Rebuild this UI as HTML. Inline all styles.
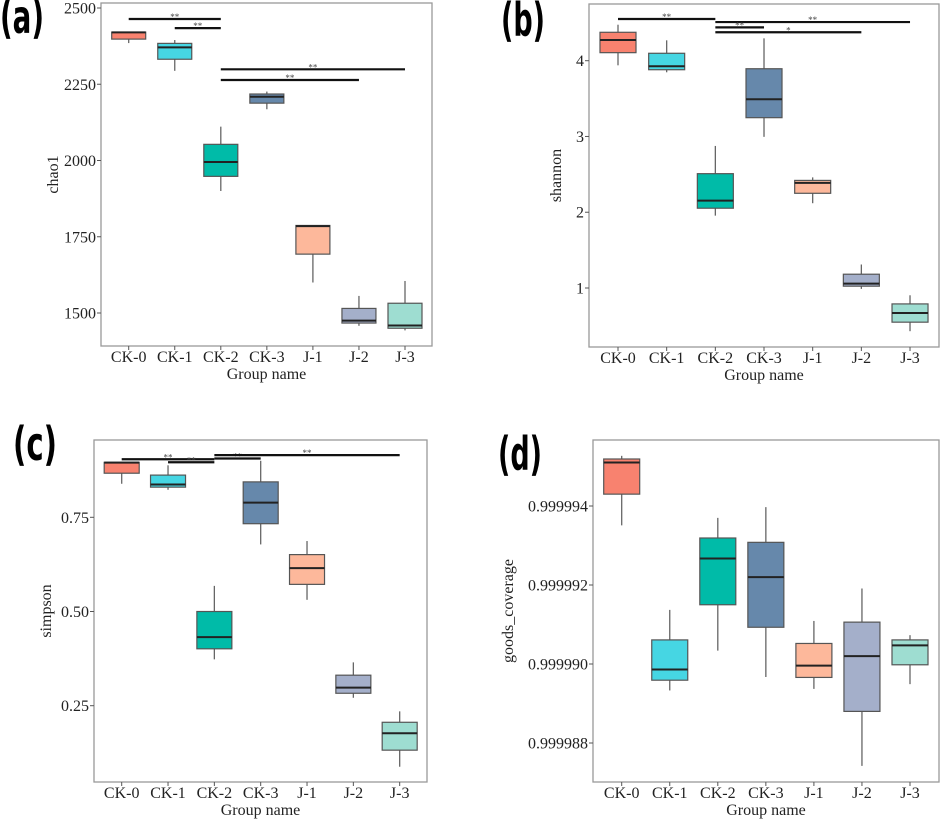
<!DOCTYPE html>
<html><head><meta charset="utf-8"><style>
html,body{margin:0;padding:0;background:#fff;}
svg{display:block;}
text{font-family:"Liberation Serif",serif;}
.pl{font-family:"DejaVu Sans","Liberation Sans",sans-serif;font-weight:bold;}
</style></head><body>
<svg id="fig" width="941" height="821" viewBox="0 0 941 821" xmlns="http://www.w3.org/2000/svg"></svg>
<script>
const categories = ["CK-0","CK-1","CK-2","CK-3","J-1","J-2","J-3"];
const colors = ["#F8826F","#46D6E3","#00BBA8","#6688AB","#FDB89B","#A4AFCA","#9EDDD1"];
// [low, q1, median, q3, high]
const chao1Stats = [[2385,2398,2420,2421,2421],[2294,2332,2371,2384,2395],[1900,1948,1995,2053,2111],[2168,2188,2209,2218,2226],[1600,1693,1785,1787,1787],[1458,1467,1475,1515,1556],[1443,1450,1459,1532,1605]];
const chao1Ticks = [1500,1750,2000,2250,2500];
const chao1Sig = [[0,2,2464,"**"],[1,2,2434,"**"],[2,6,2299,"**"],[2,5,2264,"**"]];
const shannonStats = [[3.939,4.106,4.273,4.375,4.475],[3.847,3.881,3.926,4.098,4.269],[1.955,2.053,2.153,2.509,2.875],[2.995,3.248,3.491,3.894,4.295],[2.119,2.25,2.387,2.42,2.46],[0.988,1.024,1.058,1.182,1.31],[0.43,0.549,0.67,0.79,0.904]];
const shannonTicks = [1,2,3,4];
const shannonSig = [[0,2,4.55,"**"],[2,6,4.51,"**"],[2,3,4.44,"**"],[2,5,4.375,"*"]];
const simpsonStats = [[0.839,0.867,0.895,0.896,0.896],[0.823,0.830,0.837,0.862,0.888],[0.373,0.401,0.432,0.5,0.568],[0.678,0.733,0.789,0.844,0.9],[0.531,0.572,0.615,0.651,0.687],[0.271,0.283,0.298,0.331,0.365],[0.088,0.132,0.177,0.206,0.235]];
const simpsonTicks = [0.25,0.5,0.75];
const simpsonTickLabels = ["0.25","0.50","0.75"];
const simpsonSig = [[0,2,0.904,"**"],[1,2,0.896,"**"],[2,3,0.906,"**"],[2,6,0.915,"**"]];
const goodsStats = [[0.99999351,0.9999943,0.9999951,0.99999519,0.99999527],[0.99998933,0.99998959,0.99998986,0.99999061,0.99999137],[0.99999034,0.9999915,0.99999267,0.99999319,0.9999937],[0.99998967,0.99999093,0.9999922,0.99999308,0.99999397],[0.99998937,0.99998966,0.99998996,0.99999052,0.99999109],[0.99998742,0.9999888,0.9999902,0.99999106,0.99999191],[0.99998949,0.99998998,0.99999047,0.99999061,0.99999073]];
const goodsTicks = [0.999988,0.99999,0.999992,0.999994];
const goodsTickLabels = ["0.999988","0.999990","0.999992","0.999994"];

const NS = "http://www.w3.org/2000/svg";
const svg = document.getElementById("fig");
function mk(tag, attrs, parent){
  const e = document.createElementNS(NS, tag);
  for (const k in attrs) e.setAttribute(k, attrs[k]);
  (parent||svg).appendChild(e);
  return e;
}
function panel(p){
  const g = mk("g", {});
  
  
  const yS = v => p.y0px + (v - p.v0) * (p.y1px - p.y0px) / (p.v1 - p.v0);
  const xS = i => p.cx0 + i * p.step;
  const lab = mk("text", {x:p.lx, y:p.ly, "font-size":46, class:"pl", fill:"#000", textLength:44, lengthAdjust:"spacingAndGlyphs"}, g);
  lab.textContent = p.label;
  
  
  const frame = mk("rect", {x:p.L, y:p.T, width:p.R-p.L, height:p.B-p.T, fill:"none", stroke:"#999", "stroke-width":1.3}, g);
  
  
  p.ticks.forEach((t,i) => {
    const y = yS(t);
    mk("line", {x1:p.L-4, x2:p.L, y1:y, y2:y, stroke:"#555"}, g);
    const tx = mk("text", {x:p.L-5, y:y+5.5, "font-size":16, "text-anchor":"end", fill:"#222"}, g);
    tx.textContent = p.tickLabels ? p.tickLabels[i] : String(t);
    
    
  });
  categories.forEach((c,i) => {
    const x = xS(i);
    mk("line", {x1:x, x2:x, y1:p.B, y2:p.B+4, stroke:"#555"}, g);
    const tx = mk("text", {x:x, y:p.B+16, "font-size":16, "text-anchor":"middle", fill:"#222"}, g);
    tx.textContent = c;
    
    
    const s = p.stats[i];
    const hw = p.bw/2;
    const wh = mk("line", {x1:x, x2:x, y1:yS(s[4]), y2:yS(s[0]), stroke:"#666", "stroke-width":1.3}, g);
    
    
    const bx = mk("rect", {x:x-hw, y:yS(s[3]), width:p.bw, height:Math.max(1,yS(s[1])-yS(s[3])), fill:colors[i], stroke:"#555", "stroke-width":1.2}, g);
    
    
    const md = mk("line", {x1:x-hw, x2:x+hw, y1:yS(s[2]), y2:yS(s[2]), stroke:"#222", "stroke-width":2}, g);
    
    
  });
  (p.sig||[]).forEach(s => {
    const y = yS(s[2]);
    const ln = mk("line", {x1:xS(s[0]), x2:xS(s[1]), y1:y, y2:y, stroke:"#111", "stroke-width":2.2}, g);
    
    
    const st = mk("text", {x:(xS(s[0])+xS(s[1]))/2, y:y+1, "font-size":9, "text-anchor":"middle", fill:"#444"}, g);
    st.textContent = s[3];
    
    
  });
  const xt = mk("text", {x:(p.L+p.R)/2, y:p.B+33, "font-size":16, "text-anchor":"middle", fill:"#222"}, g);
  xt.textContent = "Group name";
  
  
  const yc = (p.T+p.B)/2;
  const yt = mk("text", {x:p.ytx, y:yc, "font-size":16, "text-anchor":"middle", fill:"#222", transform:"rotate(-90 "+p.ytx+" "+yc+")"}, g);
  yt.textContent = p.ytitle;
  
  
}
panel({name:"panel-chao1", label:"(a)", lx:0, ly:33, L:101, R:432, T:3, B:346, v0:2500, v1:1500, y0px:8, y1px:313, cx0:128.7, step:46.05, bw:34, stats:chao1Stats, ticks:chao1Ticks, sig:chao1Sig, ytitle:"chao1", ytx:58});
panel({name:"panel-shannon", label:"(b)", lx:501, ly:36, L:589, R:939, T:4, B:347, v0:4, v1:1, y0px:60.7, y1px:288, cx0:618, step:48.67, bw:36, stats:shannonStats, ticks:shannonTicks, sig:shannonSig, ytitle:"shannon", ytx:561});
panel({name:"panel-simpson", label:"(c)", lx:13, ly:460, L:94, R:427, T:440, B:782, v0:0.75, v1:0.25, y0px:517.3, y1px:705.7, cx0:121.7, step:46.33, bw:35, stats:simpsonStats, ticks:simpsonTicks, tickLabels:simpsonTickLabels, sig:simpsonSig, ytitle:"simpson", ytx:51});
panel({name:"panel-goods-coverage", label:"(d)", lx:498, ly:470, L:593, R:939, T:440, B:782, v0:0.999994, v1:0.999988, y0px:506, y1px:743, cx0:621.7, step:48.05, bw:36, stats:goodsStats, ticks:goodsTicks, tickLabels:goodsTickLabels, sig:[], ytitle:"goods_coverage", ytx:513});
</script>
</body></html>
